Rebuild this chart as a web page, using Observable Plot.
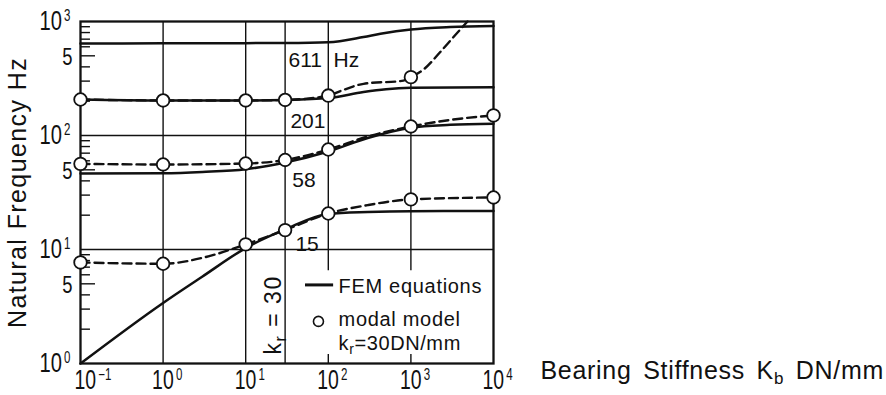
<!DOCTYPE html>
<html><head><meta charset="utf-8">
<script src="https://cdn.jsdelivr.net/npm/d3@7"></script>
<script src="https://cdn.jsdelivr.net/npm/@observablehq/plot@0.6"></script>
<style>
body{margin:0;background:#fff;}
svg{display:block;}
</style></head><body><div id="chart"></div>
<script>
// ---- modal model (circles) ----
const modalKb = [0.1, 1, 10, 30, 100, 1000, 10000];
const modal1 = [7.7, 7.5, 11.1, 14.8, 20.7, 27.5, 28.6];
const modal2 = [56.4, 55.7, 56.8, 61, 75.4, 120, 150];
const modal3Kb = [0.1, 1, 10, 30, 100, 1000];
const modal3 = [207, 203, 203, 205, 224, 325];

// ---- modal model dashed curves ----
const dash1Kb = [0.1, 1, 3.3, 10, 30, 100, 300, 1000, 10000];
const dash1 = [7.7, 7.5, 8.6, 11.1, 14.8, 20.7, 24.5, 27.5, 28.6];
const dash2Kb = [0.1, 1, 10, 30, 100, 300, 1000, 3000, 10000];
const dash2 = [56.4, 55.7, 56.8, 61, 75.4, 98, 120, 137, 150];
const dash3Kb = [0.1, 1, 10, 30, 100, 141, 267, 813, 1000, 1422, 2281, 3280, 4840];
const dash3 = [207, 203, 203, 205, 224, 246, 284, 303, 325, 379, 543, 731, 1000];

// ---- FEM equations (solid) ----
const fem1Kb = [0.1, 1, 3, 10, 30, 100, 300, 1000, 10000];
const fem1 = [1.0, 3.4, 5.8, 10.3, 15, 20.5, 21.3, 21.7, 21.8];
const fem2Kb = [0.1, 1, 3, 10, 30, 100, 300, 1000, 3000, 10000];
const fem2 = [46.4, 46.7, 47.9, 50.6, 58, 72.4, 95, 117, 124, 127];
const fem3Kb = [0.1, 1, 10, 30, 100, 267, 500, 1000, 10000];
const fem3 = [207, 203, 203, 205, 213, 241, 255, 262, 265];
const fem4Kb = [0.1, 1, 10, 30, 100, 267, 428, 1000, 3000, 10000];
const fem4 = [640, 643, 646, 648, 658, 731, 780, 851, 895, 915];

// ---- ticks / grid ----
const xDecades = [0.1, 1, 10, 100, 1000, 10000];
const xTickLabels = ["10^{−1}", "10^{0}", "10^{1}", "10^{2}", "10^{3}", "10^{4}"];
const yDecades = [1, 10, 100, 1000];
const yTickLabels = ["10^{0}", "10^{1}", "10^{2}", "10^{3}"];
const yFives = [5, 50, 500];
const yFiveLabels = ["5", "5", "5"];
const yMinor = [2, 3, 4, 6, 7, 8, 9, 20, 30, 40, 60, 70, 80, 90, 200, 300, 400, 600, 700, 800, 900];
const fullGridX = [1, 10, 30];
const partGridX = [100, 1000];
const gridY = [10, 100];

// ---- annotations ----
const modeLabels = ["611", "201", "58", "15"];
const modeLabelX = [33, 34.8, 36.6, 40];
const modeLabelY = [455, 134, 40.3, 11.2];

const ink = "#111";
const F = "'Liberation Sans', Arial, Helvetica, sans-serif";

const plot = Plot.plot({
  width: 886, height: 395,
  marginLeft: 80, marginRight: 393, marginTop: 21, marginBottom: 32,
  x: {type: "log", domain: [0.1, 1e4], axis: null},
  y: {type: "log", domain: [1, 1000], axis: null},
  style: {fontFamily: F, background: "#fff", overflow: "visible", color: ink},
  marks: [
    Plot.ruleX(fullGridX, {y1: 1, y2: 1000, stroke: ink, strokeWidth: 1.4}),
    Plot.ruleX(partGridX, {y1: 6.5, y2: 1000, stroke: ink, strokeWidth: 1.4}),
    Plot.ruleX(partGridX, {y1: 1, y2: 1.2, stroke: ink, strokeWidth: 1.4}),
    Plot.ruleY(gridY, {x1: 0.1, x2: 1e4, stroke: ink, strokeWidth: 1.4}),
    Plot.ruleY(yMinor, {x1: 0.1, x2: 0.132, stroke: ink, strokeWidth: 1.4}),
    Plot.ruleY(yFives, {x1: 0.1, x2: 0.152, stroke: ink, strokeWidth: 1.4}),
    Plot.frame({stroke: ink, strokeWidth: 2.3}),
    // FEM solid curves
    Plot.line(fem1, {x: fem1Kb, y: fem1, curve: "monotone-x", stroke: ink, strokeWidth: 2.5}),
    Plot.line(fem2, {x: fem2Kb, y: fem2, curve: "monotone-x", stroke: ink, strokeWidth: 2.5}),
    Plot.line(fem3, {x: fem3Kb, y: fem3, curve: "monotone-x", stroke: ink, strokeWidth: 2.5}),
    Plot.line(fem4, {x: fem4Kb, y: fem4, curve: "monotone-x", stroke: ink, strokeWidth: 2.5}),
    // modal dashed curves
    Plot.line(dash1, {x: dash1Kb, y: dash1, curve: "monotone-x", stroke: ink, strokeWidth: 2.4, strokeDasharray: "9,5"}),
    Plot.line(dash2, {x: dash2Kb, y: dash2, curve: "monotone-x", stroke: ink, strokeWidth: 2.4, strokeDasharray: "9,5"}),
    Plot.line(dash3, {x: dash3Kb, y: dash3, curve: "monotone-x", stroke: ink, strokeWidth: 2.4, strokeDasharray: "9,5"}),
    // circles
    Plot.dot(modal1, {x: modalKb, y: modal1, r: 6.3, fill: "#fff", stroke: ink, strokeWidth: 1.8}),
    Plot.dot(modal2, {x: modalKb, y: modal2, r: 6.3, fill: "#fff", stroke: ink, strokeWidth: 1.8}),
    Plot.dot(modal3, {x: modal3Kb, y: modal3, r: 6.3, fill: "#fff", stroke: ink, strokeWidth: 1.8}),
    // mode labels
    Plot.text(modeLabels, {x: modeLabelX, y: modeLabelY, textAnchor: "start", fontSize: 21, fill: ink}),
    Plot.text(["Hz"], {x: [116], y: [455], textAnchor: "start", fontSize: 21, fill: ink}),
    Plot.text(["k_{r} = 30"], {x: [21.7], y: [2.67], rotate: -90, fontSize: 23, fill: ink}),
    // legend
    Plot.ruleY([4.89], {x1: 53, x2: 116, stroke: ink, strokeWidth: 3}),
    Plot.text(["FEM equations"], {x: [133], y: [4.73], textAnchor: "start", fontSize: 20, fill: ink}),
    Plot.dot([2.34], {x: [76], y: d => d, r: 5, fill: "#fff", stroke: ink, strokeWidth: 1.6}),
    Plot.text(["modal model"], {x: [133], y: [2.45], textAnchor: "start", fontSize: 20, fill: ink}),
    Plot.text(["k_{r}=30DN/mm"], {x: [133], y: [1.48], textAnchor: "start", fontSize: 20, fill: ink}),
    // tick labels
    Plot.text(yTickLabels, {x: 0.1, y: yDecades, textAnchor: "end", dx: -10, fontSize: 28, fill: ink}),
    Plot.text(yFiveLabels, {x: 0.1, y: yFives, textAnchor: "end", dx: -8, dy: 2, fontSize: 23, fill: ink}),
    Plot.text(xTickLabels.slice(0, 1), {x: xDecades.slice(0, 1), y: 1, textAnchor: "start", lineAnchor: "bottom", dx: -6, dy: 25, fontSize: 27, fill: ink}),
    Plot.text(xTickLabels.slice(1), {x: xDecades.slice(1), y: 1, textAnchor: "start", lineAnchor: "bottom", dx: -11, dy: 25, fontSize: 27, fill: ink}),
    // axis titles
    Plot.text(["Natural Frequency Hz"], {frameAnchor: "left", textAnchor: "middle", lineAnchor: "middle", dx: -63, rotate: -90, fontSize: 25, fill: ink}),
    Plot.text(["Bearing Stiffness K_{b} DN/mm"], {frameAnchor: "bottom-right", textAnchor: "start", lineAnchor: "bottom", dx: 47, dy: 15, fontSize: 25, fill: ink})
  ]
});

// rich text: ^{..} superscript, _{..} subscript; spacing tweaks
const spacing = {
  "Natural Frequency Hz": {ls: 1.4},
  "Bearing Stiffness K_{b} DN/mm": {ls: 0.7, ws: 4},
  "FEM equations": {ls: 0.7},
  "modal model": {ls: 0.7},
  "k_{r}=30DN/mm": {ls: 0.6},
  "k_{r} = 30": {ls: 1.5}
};
const NS = "http://www.w3.org/2000/svg";
function richText(el, opt) {
  const s = el.textContent;
  const re = /(\^|_)\{([^}]*)\}/g;
  if (!/(\^|_)\{/.test(s)) return;
  el.textContent = "";
  let last = 0, m, offset = 0;
  const add = (txt, attrs) => {
    const t = document.createElementNS(NS, "tspan");
    for (const k in attrs) t.setAttribute(k, attrs[k]);
    t.textContent = txt;
    el.appendChild(t);
  };
  while ((m = re.exec(s))) {
    if (m.index > last) { add(s.slice(last, m.index), offset ? {dy: -offset} : {}); offset = 0; }
    const sup = m[1] === "^";
    const sh = sup ? -opt.supShift : opt.subShift;
    add(m[2], {dy: sh - offset, dx: opt.gap || 0, "font-size": sup ? opt.supSize : opt.subSize});
    offset = sh;
    last = re.lastIndex;
  }
  if (last < s.length) add(s.slice(last), offset ? {dy: -offset} : {});
}
// condensed look for tick numerals: horizontal squeeze about the anchor point
function squeeze(el, s) {
  const x = parseFloat(el.getAttribute("x")) || 0;
  const t = el.getAttribute("transform") || "";
  el.setAttribute("transform", `${t} translate(${x},0) scale(${s},1) translate(${-x},0)`);
}
d3.select(plot).selectAll("text").each(function () {
  const s = this.textContent;
  const sp = spacing[s];
  if (sp) {
    if (sp.ls) this.style.letterSpacing = sp.ls + "px";
    if (sp.ws) this.style.wordSpacing = sp.ws + "px";
  }
  if (s.startsWith("10^{")) { richText(this, {supSize: 16, supShift: 9, gap: 3}); squeeze(this, 0.72); }
  else if (s === "5") squeeze(this, 0.8);
  else if (s.startsWith("Bearing")) richText(this, {subSize: 17, subShift: 5});
  else if (s.startsWith("k_{r} =")) richText(this, {subSize: 16, subShift: 5});
  else if (s.startsWith("k_{r}=")) richText(this, {subSize: 14, subShift: 4});
});

document.getElementById("chart").appendChild(plot);
</script>
</body></html>
